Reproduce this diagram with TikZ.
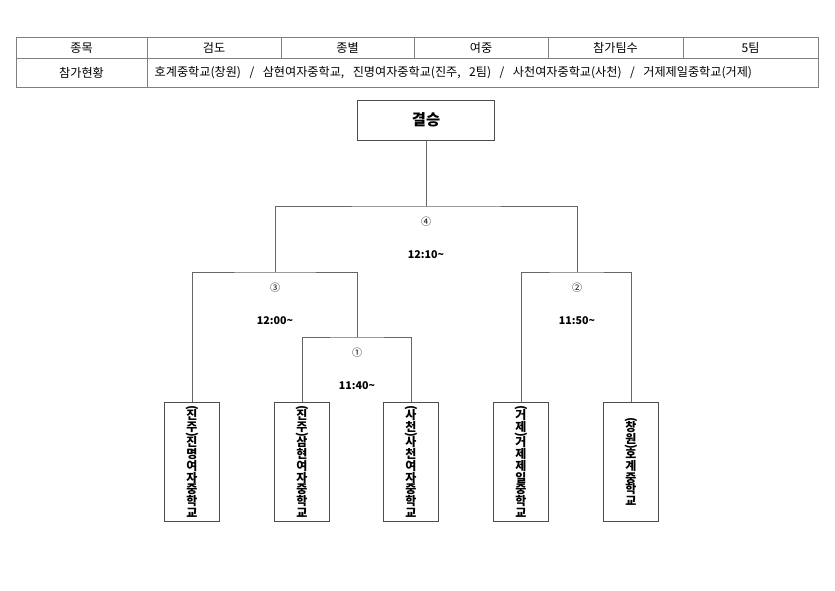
\documentclass[tikz,border=0pt]{standalone}
\usepackage{fontspec}
\setmainfont{Noto Sans CJK KR}
\usepackage{graphicx}
\newcommand{\rp}[1]{\rotatebox[origin=c]{-90}{#1}}
\begin{document}
\begin{tikzpicture}[
			x=0.75pt, y=-0.75pt,
			cell/.style={font=\fontsize{9.1}{11}\selectfont},
			fin/.style={draw=black!70, minimum width=103pt, minimum height=30pt, font=\fontsize{11.5}{13}\selectfont\bfseries, inner sep=0pt},
			team/.style={draw=black!70, minimum width=41pt, minimum height=89pt, inner sep=0pt, align=center, font={\fontsize{9}{8.8}\selectfont\bfseries\lineskiplimit=-20pt\relax}},
			lbl/.style={font=\fontsize{7.5}{9}\selectfont},
			time/.style={font=\fontsize{8}{9}\selectfont\bfseries},
			br/.style={draw=black!60, line width=0.6pt},
			grid/.style={draw=black!50, line width=0.6pt}
			]
			\useasboundingbox (0,0) rectangle (835,590);
			% table
			\draw[grid] (16,37) rectangle (818,87);
			\draw[grid] (16,58) -- (818,58);
			\foreach \x in {147,281,414,548,683}
				\draw[grid] (\x,37) -- (\x,58);
			\draw[grid] (147,58) -- (147,87);
			\node[cell] (c1) at (81.5,48) {종목};
			\node[cell] (c2) at (214,48) {검도};
			\node[cell] (c3) at (347.5,48) {종별};
			\node[cell] (c4) at (481,48) {여중};
			\node[cell] (c5) at (615.5,48) {참가팀수};
			\node[cell] (c6) at (750.5,48) {5팀};
			\node[cell, anchor=west] (d2) at (150,72.5) {\spaceskip=0.7em\relax 호계중학교(창원) / 삼현여자중학교, 진명여자중학교(진주, 2팀) / 사천여자중학교(사천) / 거제제일중학교(거제)};
			\node[cell] (d1) at (81.5,72.5) {참가현황};
			% final
			\node[fin] (fin) at (426,120) {결승};
			% teams
			\node[team] (t1) at (192,461.5) {\rp{(}\\[-3pt]진\\주\\[-3pt]\rp{)}\\[-3pt]진\\명\\여\\자\\중\\학\\교};
			\node[team] (t2) at (302,461.5) {\rp{(}\\[-3pt]진\\주\\[-3pt]\rp{)}\\[-3pt]삼\\현\\여\\자\\중\\학\\교};
			\node[team] (t3) at (411,461.5) {\rp{(}\\[-3pt]사\\천\\[-3pt]\rp{)}\\[-3pt]사\\천\\여\\자\\중\\학\\교};
			\node[team] (t4) at (521,461.5) {\rp{(}\\[-3pt]거\\제\\[-3pt]\rp{)}\\[-3pt]거\\제\\제\\일\\중\\학\\교};
			\node[team] (t5) at (631,461.5) {\rp{(}\\[-3pt]창\\원\\[-3pt]\rp{)}\\[-3pt]호\\계\\중\\학\\교};
			% bracket
			\coordinate (j4) at (426,206);
			\coordinate (j3) at (275,272);
			\coordinate (j2) at (577,272);
			\coordinate (j1) at (357,337);
			\draw[br] (fin) -- (j4);
			\draw[br] (j3) |- (j4) -| (j2);
			\draw[br] (t1.north) |- (j3) -| (j1);
			\draw[br] (t2.north) |- (j1) -| (t3.north);
			\draw[br] (t4.north) |- (j2) -| (t5.north);
			% match labels
			\node[lbl] (n4) at (426,222) {④};
			\node[time] (h4) at (426,255) {12:10\textasciitilde};
			\node[lbl] (n3) at (275,288) {③};
			\node[time] (h3) at (275,321) {12:00\textasciitilde};
			\node[lbl] (n2) at (577,288) {②};
			\node[time] (h2) at (577,321) {11:50\textasciitilde};
			\node[lbl] (n1) at (357,353) {①};
			\node[time] (h1) at (357,386) {11:40\textasciitilde};
		\end{tikzpicture}
\end{document}
